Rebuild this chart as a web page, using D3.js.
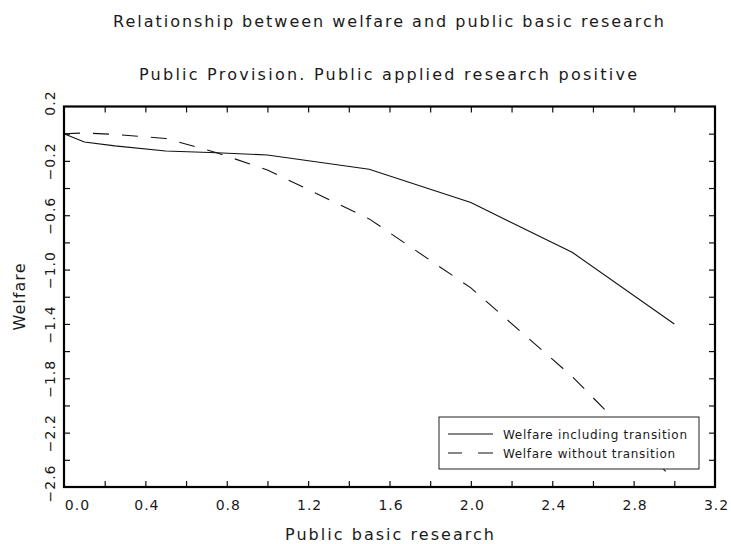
<!DOCTYPE html>
<html lang="en">
<head>
  <meta charset="UTF-8">
  <title>Welfare and public basic research</title>
  <style>
    body { margin: 0; background: #fff; }
    text { font-family: 'DejaVu Sans', sans-serif; fill: #1a1a1a; }
  </style>
</head>
<body>
  <svg id="mainsvg" width="731" height="544"></svg>
  <script src="https://cdn.jsdelivr.net/npm/d3@7/dist/d3.min.js"></script>
  <script>
    // data
    const basicResearch = [0, 0.1, 0.25, 0.5, 0.75, 1.0, 1.5, 2.0, 2.5, 3.0]
    const welfareWithTransition = [0, -0.061, -0.09, -0.127, -0.14, -0.157, -0.262, -0.507, -0.875, -1.40]
    const welfareWithoutTransition = [0, 0.005, -0.005, -0.035, -0.14, -0.267, -0.627, -1.135, -1.79, -2.55]
    const seriesNames = ['Welfare including transition', 'Welfare without transition']
    const xTickLabels = [0, 0.4, 0.8, 1.2, 1.6, 2.0, 2.4, 2.8, 3.2]
    const yTickLabels = [0.2, -0.2, -0.6, -1.0, -1.4, -1.8, -2.2, -2.6]
    const xMinorTicks = [0.2, 0.4, 0.6, 0.8, 1.0, 1.2, 1.4, 1.6, 1.8, 2.0, 2.2, 2.4, 2.6, 2.8, 3.0]
    const yMinorTicks = [0.0, -0.2, -0.4, -0.6, -0.8, -1.0, -1.2, -1.4, -1.6, -1.8, -2.0, -2.2, -2.4]

    const svg = d3.select('#mainsvg')
    const width = +svg.attr('width')
    const height = +svg.attr('height')
    const margin = { top: 106.5, right: 16, bottom: 57, left: 64 }

    const x = d3.scaleLinear().domain([0, 3.2]).range([margin.left, width - margin.right])
    const y = d3.scaleLinear().domain([-2.6, 0.2]).range([height - margin.bottom, margin.top])
    const fmt = d3.format('.1f')

    // titles
    svg.append('text').text('Relationship between welfare and public basic research')
      .attr('x', 388.5).attr('y', 27).attr('text-anchor', 'middle')
      .attr('font-size', 16).attr('textLength', 551).attr('lengthAdjust', 'spacing')
    svg.append('text').text('Public Provision. Public applied research positive')
      .attr('x', 388).attr('y', 80).attr('text-anchor', 'middle')
      .attr('font-size', 16).attr('textLength', 498).attr('lengthAdjust', 'spacing')

    // ticks on all four sides, pointing inward
    const tick = 6
    svg.append('g').attr('transform', `translate(0,${y.range()[0]})`)
      .call(d3.axisBottom(x).tickValues(xMinorTicks).tickSize(-tick).tickFormat(''))
    svg.append('g').attr('transform', `translate(0,${y.range()[1]})`)
      .call(d3.axisTop(x).tickValues(xMinorTicks).tickSize(-tick).tickFormat(''))
    svg.append('g').attr('transform', `translate(${x.range()[0]},0)`)
      .call(d3.axisLeft(y).tickValues(yMinorTicks).tickSize(-tick).tickFormat(''))
    svg.append('g').attr('transform', `translate(${x.range()[1]},0)`)
      .call(d3.axisRight(y).tickValues(yMinorTicks).tickSize(-tick).tickFormat(''))
    svg.selectAll('.domain').remove()
    svg.selectAll('.tick line').attr('stroke', '#111').attr('stroke-width', 1.2)

    // x tick labels
    const xLab = svg.append('g').attr('transform', `translate(0,${y.range()[0]})`)
      .call(d3.axisBottom(x).tickValues(xTickLabels).tickSize(0).tickPadding(0).tickFormat(fmt))
    xLab.select('.domain').remove()
    xLab.selectAll('text')
      .attr('font-size', 14).attr('letter-spacing', 1).attr('fill', '#1a1a1a')
      .attr('font-family', 'DejaVu Sans, sans-serif')
      .attr('y', 23).attr('dy', 0)
      .attr('dx', d => d === 0 ? 13 : 1)

    // y tick labels, rotated
    const yLab = svg.append('g').attr('transform', `translate(${x.range()[0]},0)`)
      .call(d3.axisLeft(y).tickValues(yTickLabels).tickSize(0).tickFormat(fmt))
    yLab.select('.domain').remove()
    yLab.selectAll('.tick text')
      .attr('font-size', 14).attr('letter-spacing', 1).attr('fill', '#1a1a1a')
      .attr('font-family', 'DejaVu Sans, sans-serif')
      .attr('x', null).attr('dy', null)
      .attr('text-anchor', 'middle')
      .attr('transform', d => `translate(-9,${d === 0.2 ? -4 : d === -2.6 ? -4 : 0}) rotate(-90)`)

    // axis titles
    svg.append('text').text('Public basic research')
      .attr('x', 389.5).attr('y', 540).attr('text-anchor', 'middle')
      .attr('font-size', 16).attr('textLength', 209).attr('lengthAdjust', 'spacing')
    svg.append('text').text('Welfare')
      .attr('transform', 'translate(25,297) rotate(-90)').attr('text-anchor', 'middle')
      .attr('font-size', 16).attr('textLength', 67).attr('lengthAdjust', 'spacing')

    // lines
    const line = d3.line().x(d => x(d[0])).y(d => y(d[1]))
    svg.append('path')
      .datum(basicResearch.map((b, i) => [b, welfareWithTransition[i]]))
      .attr('d', line).attr('fill', 'none').attr('stroke', '#111').attr('stroke-width', 1.1)
    svg.append('path')
      .datum(basicResearch.map((b, i) => [b, welfareWithoutTransition[i]]))
      .attr('d', line).attr('fill', 'none').attr('stroke', '#111').attr('stroke-width', 1.1)
      .attr('stroke-dasharray', '16,13')

    // frame
    svg.append('rect')
      .attr('x', x.range()[0]).attr('y', y.range()[1])
      .attr('width', x.range()[1] - x.range()[0]).attr('height', y.range()[0] - y.range()[1])
      .attr('fill', 'none').attr('stroke', '#000').attr('stroke-width', 2.2)

    // legend
    const legend = svg.append('g').attr('transform', 'translate(439,417)')
    legend.append('rect').attr('width', 260).attr('height', 52)
      .attr('fill', '#fff').attr('stroke', '#222').attr('stroke-width', 1)
    const legendLens = [184, 172]
    seriesNames.forEach((name, i) => {
      const ly = 17 + i * 19
      legend.append('line').attr('x1', 9).attr('x2', 54).attr('y1', ly).attr('y2', ly)
        .attr('stroke', '#111').attr('stroke-width', 1.1)
        .attr('stroke-dasharray', i === 1 ? '14,16,15' : null)
      legend.append('text').text(name)
        .attr('x', 64).attr('y', ly + 5)
        .attr('font-size', 12).attr('textLength', legendLens[i]).attr('lengthAdjust', 'spacing')
    })
  </script>
</body>
</html>
